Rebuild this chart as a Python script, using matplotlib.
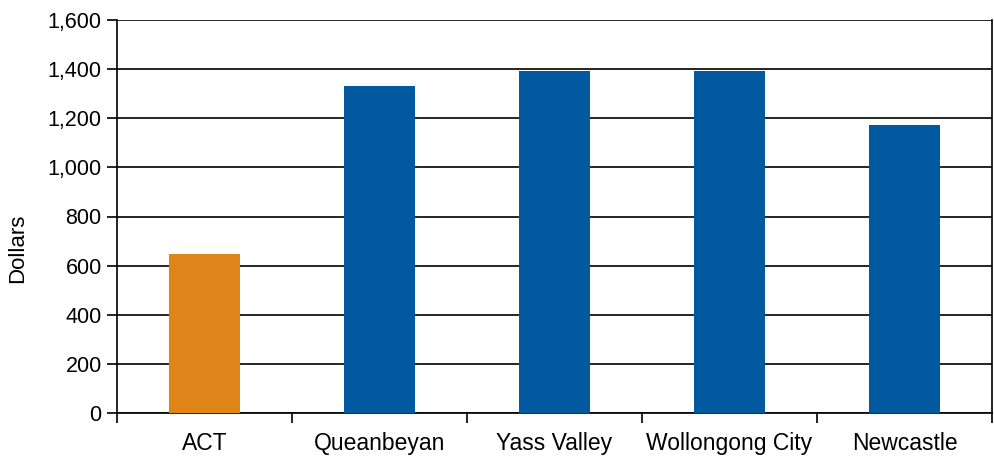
import matplotlib
matplotlib.use("Agg")
import matplotlib.pyplot as plt
from matplotlib.ticker import FuncFormatter, MultipleLocator

# data
regions = ["ACT", "Queanbeyan", "Yass Valley", "Wollongong City", "Newcastle"]
dollars = [648, 1332, 1393, 1393, 1172]
bar_colors = ["#DE8418", "#03599F", "#03599F", "#03599F", "#03599F"]

plt.rcParams["font.family"] = ["Liberation Sans", "DejaVu Sans"]

fig = plt.figure(figsize=(9.94, 4.57), dpi=100)
ax = fig.add_axes([117 / 994, 1 - 413 / 457, 875 / 994, 393 / 457])

x = list(range(len(regions)))
ax.bar(x, dollars, width=0.41, color=bar_colors, zorder=3)

ax.set_xlim(-0.5, len(regions) - 0.5)
ax.set_ylim(0, 1600)
ax.yaxis.set_major_locator(MultipleLocator(200))
ax.yaxis.set_major_formatter(FuncFormatter(lambda v, p: f"{int(v):,}"))
ax.grid(axis="y", color="black", linewidth=1.2, zorder=0)

# category labels centred, ticks at the category boundaries
ax.set_xticks(x)
ax.set_xticklabels(regions)
ax.set_xticks([i - 0.5 for i in range(len(regions) + 1)], minor=True)
ax.tick_params(axis="x", which="major", length=0, pad=14, labelsize=16.5)
ax.tick_params(axis="x", which="minor", length=7, width=1.2, direction="out")
ax.tick_params(axis="y", length=7, width=1.2, direction="out", labelsize=15.5, pad=4)

for side in ["left", "right", "bottom"]:
    ax.spines[side].set_linewidth(1.2)
ax.spines["top"].set_visible(False)

ax.set_ylabel("Dollars", fontsize=16)
ax.yaxis.set_label_coords(-0.102, 0.42)

fig.savefig("out.png", dpi=100)
